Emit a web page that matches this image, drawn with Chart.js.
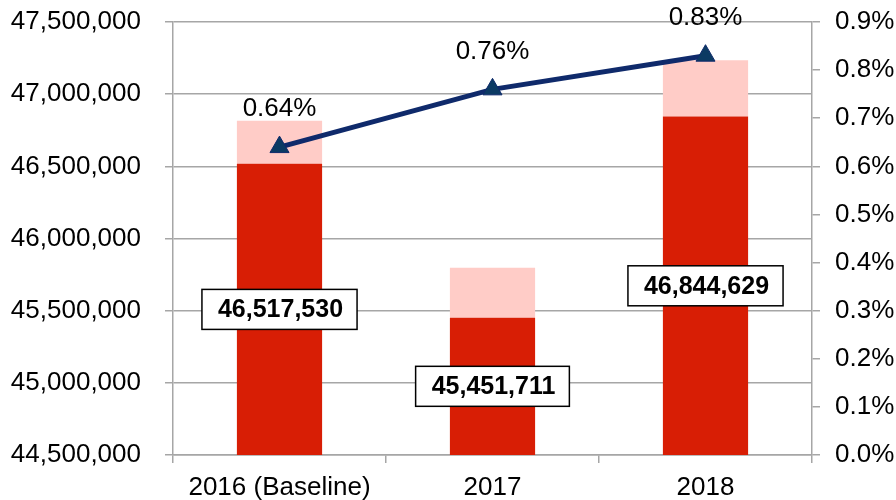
<!DOCTYPE html>
<html>
<head>
<meta charset="utf-8">
<script src="https://cdn.jsdelivr.net/npm/chart.js@4/dist/chart.umd.min.js"></script>
<style>
  html, body { margin: 0; padding: 0; background: #fff; }
  #wrap { width: 896px; height: 500px; }
</style>
</head>
<body>
<div id="wrap"><canvas id="chart" width="896" height="500"></canvas></div>
<script>
// data
const years = ['2016 (Baseline)', '2017', '2018'];
const baseValues = [46517530, 45451711, 46844629];
const extraValues = [298000, 346000, 390000];
const pctValues = [0.64, 0.76, 0.83];

const fontFamily = '"Liberation Sans", Arial, sans-serif';
const gridColor = '#a6a6a6';

// draws the percent labels and the boxed totals
const labelPlugin = {
    id: 'labelPlugin',
    afterDatasetsDraw(chart) {
        const ctx = chart.ctx;
        const yScale = chart.scales.y;
        const lineMeta = chart.getDatasetMeta(2);
        const barMeta = chart.getDatasetMeta(0);

        ctx.save();
        ctx.textAlign = 'center';
        ctx.textBaseline = 'middle';

        // percent labels above the line points
        ctx.font = '26px ' + fontFamily;
        ctx.fillStyle = '#000';
        lineMeta.data.forEach((pt, i) => {
            ctx.fillText(pctValues[i].toFixed(2) + '%', pt.x, pt.y - 38);
        });

        // boxed value labels at the middle of the dark bar
        ctx.font = 'bold 25px ' + fontFamily;
        barMeta.data.forEach((bar, i) => {
            const text = baseValues[i].toLocaleString('en-US');
            const y = yScale.getPixelForValue((yScale.min + baseValues[i]) / 2);
            const w = ctx.measureText(text).width + 30;
            const h = 40;
            ctx.fillStyle = '#fff';
            ctx.fillRect(bar.x - w / 2, y - h / 2, w, h);
            ctx.strokeStyle = '#000';
            ctx.lineWidth = 1.5;
            ctx.strokeRect(bar.x - w / 2, y - h / 2, w, h);
            ctx.fillStyle = '#000';
            ctx.fillText(text, bar.x + 1, y + 1);
        });
        ctx.restore();
    }
};

const ctx = document.getElementById('chart').getContext('2d');
const chart = new Chart(ctx, {
    type: 'bar',
    data: {
        labels: years,
        datasets: [
            {
                label: 'Base',
                data: baseValues,
                backgroundColor: '#d81e05',
                stack: 's',
                yAxisID: 'y',
                order: 2,
                barPercentage: 0.8,
                categoryPercentage: 0.5
            },
            {
                label: 'Extra',
                data: extraValues,
                backgroundColor: '#ffccc7',
                stack: 's',
                yAxisID: 'y',
                order: 2,
                barPercentage: 0.8,
                categoryPercentage: 0.5
            },
            {
                type: 'line',
                label: 'Percent',
                data: pctValues,
                yAxisID: 'y1',
                borderColor: '#0f2a6b',
                borderWidth: 5,
                pointStyle: 'triangle',
                pointRadius: 11,
                pointBackgroundColor: '#0b3a63',
                pointBorderColor: '#0f2a6b',
                pointBorderWidth: 1,
                order: 0
            }
        ]
    },
    options: {
        responsive: false,
        animation: false,
        layout: { padding: { top: 22, left: 0, right: 0, bottom: 0 } },
        plugins: {
            legend: { display: false },
            tooltip: { enabled: false }
        },
        scales: {
            x: {
                stacked: true,
                grid: { drawOnChartArea: false, color: gridColor, lineWidth: 1.5, tickLength: 8, offset: true },
                border: { color: gridColor, width: 1.5 },
                ticks: { color: '#000', font: { size: 26, family: fontFamily }, padding: 9, maxRotation: 0 },
                afterFit: (s) => { s.height = 45; s.paddingLeft = 0; s.paddingRight = 0; }
            },
            y: {
                stacked: true,
                position: 'left',
                min: 44500000,
                max: 47500000,
                grid: { color: gridColor, lineWidth: 1.5, tickLength: 8 },
                border: { color: gridColor, width: 1.5 },
                ticks: {
                    stepSize: 500000,
                    color: '#000',
                    padding: 24,
                    font: { size: 26, family: fontFamily },
                    callback: (v) => v.toLocaleString('en-US')
                },
                afterFit: (s) => { s.width = 173; s.paddingTop = 0; s.paddingBottom = 0; }
            },
            y1: {
                position: 'right',
                min: 0,
                max: 0.9,
                grid: { drawOnChartArea: false, color: gridColor, lineWidth: 1.5, tickLength: 8 },
                border: { color: gridColor, width: 1.5 },
                ticks: {
                    stepSize: 0.1,
                    color: '#000',
                    padding: 15,
                    align: 'center',
                    font: { size: 26, family: fontFamily },
                    callback: (v) => v.toFixed(1) + '%'
                },
                afterFit: (s) => { s.width = 84; s.paddingTop = 0; s.paddingBottom = 0; }
            }
        }
    },
    plugins: [labelPlugin]
});
</script>
</body>
</html>
